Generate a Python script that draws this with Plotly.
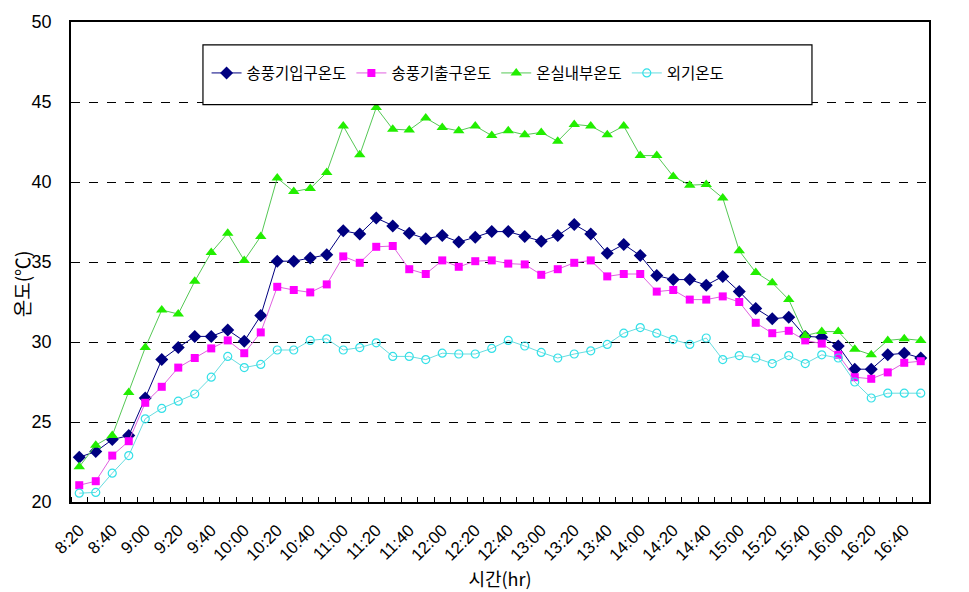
import plotly.graph_objects as go

times = ["8:20", "8:30", "8:40", "8:50", "9:00", "9:10", "9:20", "9:30", "9:40", "9:50",
         "10:00", "10:10", "10:20", "10:30", "10:40", "10:50", "11:00", "11:10", "11:20", "11:30",
         "11:40", "11:50", "12:00", "12:10", "12:20", "12:30", "12:40", "12:50", "13:00", "13:10",
         "13:20", "13:30", "13:40", "13:50", "14:00", "14:10", "14:20", "14:30", "14:40", "14:50",
         "15:00", "15:10", "15:20", "15:30", "15:40", "15:50", "16:00", "16:10", "16:20", "16:30",
         "16:40", "16:50"]

inlet = [22.8, 23.15, 23.9, 24.15, 26.5, 28.9, 29.65, 30.35, 30.35, 30.75,
         30.05, 31.65, 35.05, 35.05, 35.25, 35.45, 36.95, 36.75, 37.75, 37.25,
         36.8, 36.45, 36.65, 36.25, 36.55, 36.9, 36.9, 36.6, 36.3, 36.65,
         37.35, 36.75, 35.55, 36.1, 35.4, 34.15, 33.9, 33.9, 33.55, 34.1,
         33.15, 32.1, 31.45, 31.55, 30.35, 30.3, 29.75, 28.3, 28.3, 29.2,
         29.3, 29.0]

outlet = [21.05, 21.3, 22.9, 23.8, 26.2, 27.2, 28.4, 29.0, 29.6, 30.1,
          29.3, 30.6, 33.45, 33.25, 33.1, 33.6, 35.35, 34.95, 35.95, 36.0,
          34.55, 34.25, 35.1, 34.7, 35.05, 35.1, 34.9, 34.85, 34.2, 34.55,
          34.95, 35.1, 34.1, 34.25, 34.25, 33.15, 33.25, 32.65, 32.65, 32.85,
          32.5, 31.2, 30.55, 30.7, 30.1, 29.9, 29.2, 27.8, 27.7, 28.1,
          28.7, 28.8]

greenhouse = [22.2, 23.55, 24.15, 26.85, 29.65, 32.0, 31.75, 33.8, 35.6, 36.8,
              35.1, 36.6, 40.25, 39.4, 39.6, 40.6, 43.5, 41.7, 44.65, 43.3,
              43.25, 44.0, 43.4, 43.2, 43.5, 42.9, 43.2, 42.95, 43.1, 42.55,
              43.6, 43.5, 42.95, 43.5, 41.65, 41.65, 40.35, 39.8, 39.85, 39.0,
              35.7, 34.35, 33.7, 32.65, 30.4, 30.65, 30.65, 29.55, 29.2, 30.1,
              30.2, 30.1]

outdoor = [20.55, 20.6, 21.8, 22.9, 25.2, 25.85, 26.3, 26.75, 27.8, 29.1,
           28.4, 28.6, 29.5, 29.5, 30.1, 30.2, 29.5, 29.65, 29.95, 29.1,
           29.1, 28.9, 29.3, 29.25, 29.25, 29.6, 30.1, 29.75, 29.35, 29.0,
           29.25, 29.45, 29.85, 30.55, 30.9, 30.55, 30.15, 29.85, 30.25, 28.9,
           29.15, 29.0, 28.65, 29.15, 28.65, 29.2, 29.0, 27.5, 26.5, 26.8,
           26.8, 26.8]

series_names = ["송풍기입구온도", "송풍기출구온도", "온실내부온도", "외기온도"]
y_ticks = [20, 25, 30, 35, 40, 45, 50]

x = list(range(len(times)))
FONT = "Liberation Sans, Arial, Noto Sans CJK KR, sans-serif"
KFONT = "Noto Sans CJK KR, Liberation Sans, sans-serif"

fig = go.Figure()
fig.add_trace(go.Scatter(x=x, y=inlet, name=series_names[0], mode="lines+markers",
                         line=dict(color="#000080", width=1),
                         marker=dict(symbol="diamond", size=10, color="#000080")))
fig.add_trace(go.Scatter(x=x, y=outlet, name=series_names[1], mode="lines+markers",
                         line=dict(color="#E060E0", width=1),
                         marker=dict(symbol="square", size=8, color="#FF00FF")))
fig.add_trace(go.Scatter(x=x, y=greenhouse, name=series_names[2], mode="lines+markers",
                         line=dict(color="#55C855", width=1),
                         marker=dict(symbol="triangle-up", size=10, color="#22EE00")))
fig.add_trace(go.Scatter(x=x, y=outdoor, name=series_names[3], mode="lines+markers",
                         line=dict(color="#66DDE0", width=1),
                         marker=dict(symbol="circle-open", size=8, color="#33E0E8",
                                     line=dict(width=1.2))))

# legend box
fig.add_shape(type="rect", xref="paper", yref="paper",
              x0=0.1538, x1=0.8636, y0=0.8278, y1=0.9523,
              line=dict(color="black", width=1.2), fillcolor="white", layer="above")

# y-axis title
fig.add_annotation(text="온도(℃)", xref="paper", yref="paper",
                   x=-0.058, y=0.454, xanchor="center", yanchor="middle",
                   textangle=-90, showarrow=False,
                   font=dict(size=19, family=KFONT, color="black"))

fig.update_layout(
    width=969, height=592,
    margin=dict(l=71, r=40, t=20, b=90),
    paper_bgcolor="white", plot_bgcolor="white",
    font=dict(family=FONT, color="black"),
    showlegend=True,
    legend=dict(orientation="h", x=0.158, y=0.893, xanchor="left", yanchor="middle",
                bgcolor="rgba(0,0,0,0)", font=dict(size=15.5, family=KFONT),
                itemwidth=30, tracegroupgap=0),
    xaxis=dict(
        range=[-0.5, len(times) - 0.5],
        tickmode="array", tickvals=x[::2], ticktext=times[::2],
        tickangle=-45, tickfont=dict(size=17), ticks="", ticklabelstandoff=10,
        showgrid=False, zeroline=False,
        showline=True, linecolor="black", linewidth=1.5, mirror=True,
        minor=dict(tickmode="array", tickvals=[i - 0.5 for i in range(len(times) + 1)],
                   ticks="inside", ticklen=5, tickcolor="black", showgrid=False),
        title=dict(text="시간(hr)", font=dict(size=18, family=KFONT), standoff=0),
    ),
    yaxis=dict(
        range=[20, 50], tickmode="array", tickvals=y_ticks,
        tickfont=dict(size=18), ticks="", ticklabelstandoff=14,
        showgrid=True, gridcolor="black", griddash="dash", gridwidth=1,
        zeroline=False,
        showline=True, linecolor="black", linewidth=1.5, mirror=True,
    ),
)

fig.write_html("out.html", config={"displayModeBar": False},
               post_script="document.body.style.margin='0';")
